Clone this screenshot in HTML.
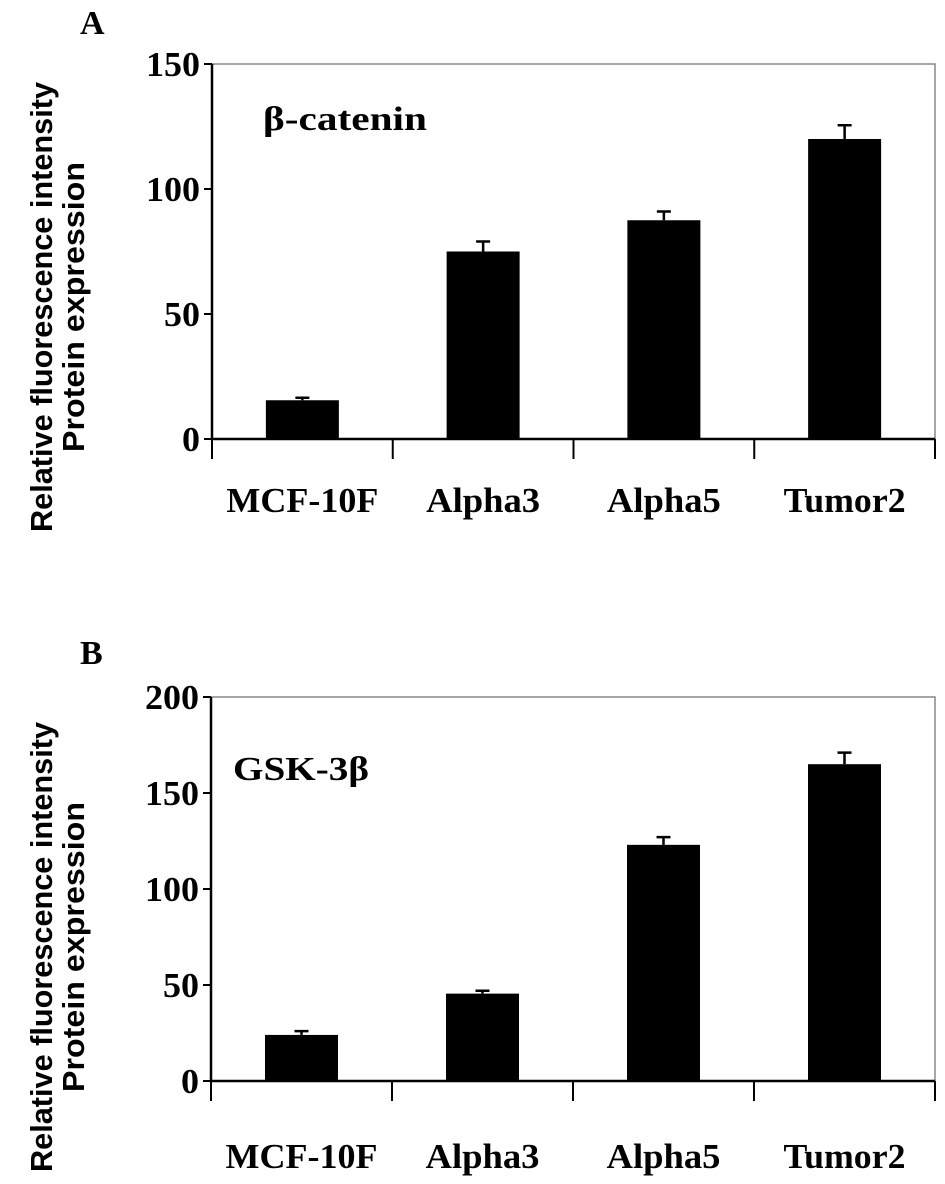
<!DOCTYPE html>
<html><head><meta charset="utf-8"><style>
html,body{margin:0;padding:0;background:#fff;}
svg{display:block;font-family:"Liberation Serif",serif;font-weight:bold;}
</style></head><body>
<svg id="fig" width="945" height="1184" viewBox="0 0 945 1184"></svg>
<script>
const categories = ["MCF-10F","Alpha3","Alpha5","Tumor2"];
const valuesA = [15.5, 75, 87.5, 120];
const errorsA = [1, 4, 3.5, 5.5];
const valuesB = [24, 45.5, 123, 165];
const errorsB = [2, 1.5, 4, 6];
const ticksA = [0, 50, 100, 150];
const ticksB = [0, 50, 100, 150, 200];

const NS = "http://www.w3.org/2000/svg";
const svg = document.getElementById("fig");
function mk(tag, attrs, parent, text){
  const e = document.createElementNS(NS, tag);
  for (const k in attrs) e.setAttribute(k, attrs[k]);
  if (text !== undefined) e.textContent = text;
  (parent || svg).appendChild(e);
  return e;
}
const catW = {"MCF-10F":152,"Alpha3":114,"Alpha5":114,"Tumor2":122};

function panel(p){
  const g = mk("g", {});
  
  
  const x0 = p.left, x1 = p.right, yTop = p.top, yZero = p.zero;
  const yMax = p.ticks[p.ticks.length-1];
  const y = v => yZero - (v / yMax) * (yZero - yTop);
  const band = (x1 - x0) / p.cats.length;
  const xc = i => x0 + band * (i + 0.5);

  const fr = mk("path", {d:`M${x0} ${yTop}H${x1}V${yZero}`, fill:"none", stroke:"#888", "stroke-width":1.5}, g);
  
  

  const lt = mk("text", {x:p.letterX, y:p.letterY, "font-size":34}, g, p.letter);
  
  

  p.ticks.forEach(t => {
    const tk = mk("line", {x1:x0-8, x2:x0, y1:y(t), y2:y(t), stroke:"#000", "stroke-width":2}, g);
    
    
    const s = String(t);
    const tl = mk("text", {x:x0-12, y:y(t)+12, "font-size":35, "text-anchor":"end", textLength:s.length*18, lengthAdjust:"spacingAndGlyphs"}, g, s);
    
    
  });

  p.vals.forEach((v, i) => {
    const bw = 73;
    const b = mk("rect", {x:xc(i)-bw/2, y:y(v), width:bw, height:yZero-y(v), fill:"#000"}, g);
    
    
    const top = y(v + p.errs[i]);
    const eb = mk("path", {d:`M${xc(i)} ${y(v)}V${top}M${xc(i)-7} ${top}H${xc(i)+7}`, stroke:"#000", "stroke-width":2.5, fill:"none"}, g);
    
    
    const cl = mk("text", {x:xc(i), y:p.labelY, "font-size":35, "text-anchor":"middle", textLength:catW[p.cats[i]], lengthAdjust:"spacingAndGlyphs"}, g, p.cats[i]);
    
    
  });

  for (let i = 0; i <= p.cats.length; i++){
    const xs = x0 + band * i;
    const s = mk("line", {x1:xs, x2:xs, y1:yZero, y2:yZero+20, stroke:"#000", "stroke-width":2}, g);
    
    
  }

  const ax = mk("path", {d:`M${x0} ${yTop}V${yZero}H${x1}`, fill:"none", stroke:"#000", "stroke-width":2.5}, g);
  
  

  const tt = mk("text", {x:p.titleX, y:p.titleY, "font-size":34, textLength:p.titleW, lengthAdjust:"spacingAndGlyphs"}, g, p.title);
  
  

  const cy = p.ylabY;
  const y1 = mk("text", {x:0, y:0, "font-size":31, "font-family":"Liberation Sans, sans-serif", "text-anchor":"middle", textLength:450, lengthAdjust:"spacingAndGlyphs", transform:`translate(52 ${cy}) rotate(-90)`}, g, "Relative fluorescence intensity");
  
  
  const y2 = mk("text", {x:0, y:0, "font-size":31, "font-family":"Liberation Sans, sans-serif", "text-anchor":"middle", textLength:290, lengthAdjust:"spacingAndGlyphs", transform:`translate(84 ${cy}) rotate(-90)`}, g, "Protein expression");
  
  
}

panel({name:"panel-a", letter:"A", letterX:80, letterY:34, left:212, right:935, top:64, zero:439,
  ticks:ticksA, vals:valuesA, errs:errorsA, cats:categories, labelY:512,
  title:"β-catenin", titleX:263, titleY:130, titleW:164, ylabY:307});
panel({name:"panel-b", letter:"B", letterX:80, letterY:664, left:211, right:935, top:697, zero:1081,
  ticks:ticksB, vals:valuesB, errs:errorsB, cats:categories, labelY:1168,
  title:"GSK-3β", titleX:233, titleY:780, titleW:136, ylabY:947});
</script>
</body></html>
